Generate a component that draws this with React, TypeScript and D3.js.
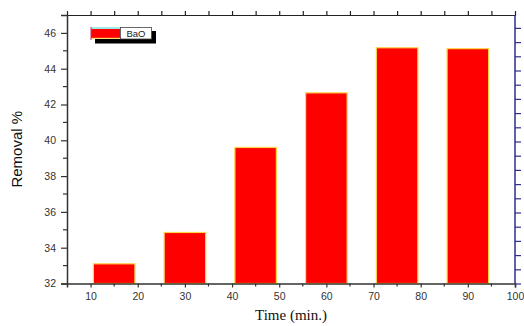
import { useRef, useEffect } from 'react';
import * as d3 from 'd3';

const times = [15, 30, 45, 60, 75, 90];
const removal = [33.1, 34.85, 39.6, 42.65, 45.17, 45.12];
const xTicks = [10, 20, 30, 40, 50, 60, 70, 80, 90, 100];
const yTicks = [32, 34, 36, 38, 40, 42, 44, 46];
const legendLabel = 'BaO';

export default function App() {
  const ref = useRef<SVGSVGElement>(null);

  useEffect(() => {
    const w = 524, h = 326;
    const left = 67, right = 515, top = 15, bottom = 283.5;

    const x = d3.scaleLinear().domain([5, 100]).range([left, right]);
    const y = d3.scaleLinear().domain([32, 47]).range([bottom, top]);
    const barW = x(13.8) - x(5);

    const svg = d3.select(ref.current)
      .attr('width', w)
      .attr('height', h)
      .style('font-family', 'Arial, "Liberation Sans", sans-serif');
    svg.selectAll('*').remove();

    svg.append('rect').attr('width', w).attr('height', h).attr('fill', '#fff');

    // bars
    svg.append('g')
      .selectAll('rect')
      .data(times)
      .join('rect')
        .attr('x', (d) => x(d) - barW / 2)
        .attr('y', (_, i) => y(removal[i]))
        .attr('width', barW)
        .attr('height', (_, i) => bottom - y(removal[i]))
        .attr('fill', '#ff0000')
        .attr('stroke', '#ffd54a')
        .attr('stroke-width', 1.2);

    // bottom axis
    const bx = svg.append('g')
      .attr('transform', `translate(0,${bottom})`)
      .call(d3.axisBottom(x).tickValues(xTicks).tickSize(4).tickPadding(5).tickFormat(d3.format('d')));
    bx.select('.domain').attr('stroke', '#333').attr('stroke-width', 1.5);
    bx.selectAll('.tick line').attr('stroke', '#333').attr('stroke-width', 1.2);
    bx.selectAll('.tick text').attr('fill', '#333').style('font-size', '10.5px');
    bx.append('g').selectAll('line')
      .data(d3.range(15, 100, 10))
      .join('line')
        .attr('x1', (d) => x(d)).attr('x2', (d) => x(d))
        .attr('y1', 0).attr('y2', 3)
        .attr('stroke', '#333').attr('stroke-width', 1.2);

    // top axis
    const tx = svg.append('g')
      .attr('transform', `translate(0,${top})`)
      .call(d3.axisTop(x).tickValues(d3.range(10, 100, 5)).tickSize(4).tickFormat(() => ''));
    tx.select('.domain').attr('stroke', '#222').attr('stroke-width', 1.2);
    tx.selectAll('.tick line').attr('stroke', '#222').attr('stroke-width', 1.2);

    // left axis
    const ly = svg.append('g')
      .attr('transform', `translate(${left},0)`)
      .call(d3.axisLeft(y).tickValues(yTicks).tickSize(6).tickPadding(5).tickFormat(d3.format('d')));
    ly.select('.domain').attr('stroke', '#333').attr('stroke-width', 1.5);
    ly.selectAll('.tick line').attr('stroke', '#333').attr('stroke-width', 1.2);
    ly.selectAll('.tick text').attr('fill', '#333').style('font-size', '10.5px');
    ly.append('g').selectAll('line')
      .data(d3.range(33, 47, 2))
      .join('line')
        .attr('x1', 0).attr('x2', -4)
        .attr('y1', (d) => y(d)).attr('y2', (d) => y(d))
        .attr('stroke', '#333').attr('stroke-width', 1.2);

    // right axis (blue, unlabeled)
    const yr = d3.scaleLinear().domain([0, 19]).range([bottom, bottom - 19 * 14.2]);
    const ry = svg.append('g')
      .attr('transform', `translate(${right},0)`)
      .call(d3.axisRight(yr).tickValues(d3.range(0, 19, 1)).tickSize(6).tickFormat(() => ''));
    ry.select('.domain').attr('stroke', '#2e2e8f').attr('stroke-width', 1.5)
      .attr('d', `M0,${bottom}V${top}`);
    ry.selectAll('.tick line').attr('stroke', '#2e2e8f').attr('stroke-width', 1.2);

    // legend
    const lg = svg.append('g');
    lg.append('rect').attr('x', 95).attr('y', 31).attr('width', 61).attr('height', 12.5).attr('fill', '#000');
    lg.append('rect').attr('x', 91).attr('y', 27.5).attr('width', 30).attr('height', 11.5).attr('fill', '#fff');
    lg.append('rect').attr('x', 91).attr('y', 29).attr('width', 29).attr('height', 9)
      .attr('fill', '#ff0000');
    lg.append('line').attr('x1', 91).attr('x2', 120).attr('y1', 28).attr('y2', 28)
      .attr('stroke', '#7fe5e5').attr('stroke-width', 1.5);
    lg.append('line').attr('x1', 91).attr('x2', 120).attr('y1', 38.3).attr('y2', 38.3)
      .attr('stroke', '#ffd54a').attr('stroke-width', 1);
    lg.append('line').attr('x1', 91).attr('x2', 91).attr('y1', 27).attr('y2', 40)
      .attr('stroke', '#cc3366').attr('stroke-width', 1);
    lg.append('rect').attr('x', 120.5).attr('y', 27.5).attr('width', 31).attr('height', 11.5)
      .attr('fill', '#fff').attr('stroke', '#444').attr('stroke-width', 0.8);
    lg.append('text').attr('x', 136).attr('y', 36.5).attr('text-anchor', 'middle')
      .style('font-size', '9.5px').attr('fill', '#222').text(legendLabel);

    // titles
    svg.append('text')
      .attr('transform', `translate(22,${(top + bottom) / 2}) rotate(-90)`)
      .attr('text-anchor', 'middle')
      .style('font-size', '15px')
      .attr('fill', '#111')
      .text('Removal %');

    svg.append('text')
      .attr('x', 291).attr('y', 320)
      .attr('text-anchor', 'middle')
      .style('font-family', '"Liberation Serif", "Times New Roman", serif')
      .style('font-size', '15px')
      .attr('fill', '#111')
      .text('Time (min.)');
  }, []);

  return <svg ref={ref} style={{ position: 'absolute', left: 0, top: 0 }}></svg>;
}
